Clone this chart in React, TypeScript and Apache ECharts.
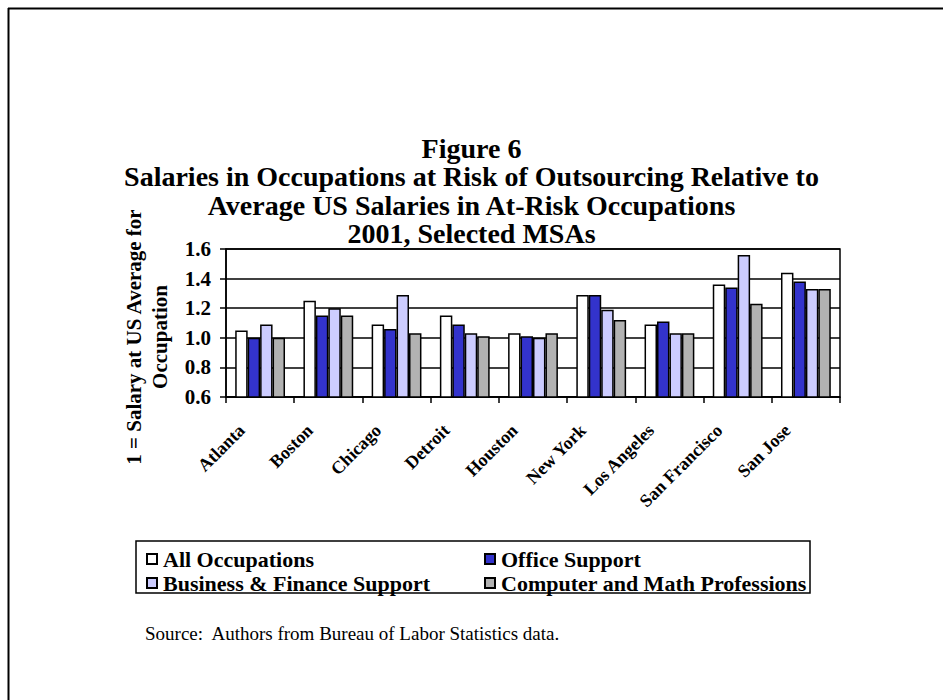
import React, { useEffect, useRef } from "react";
import * as echarts from "echarts";

const categories = ["Atlanta", "Boston", "Chicago", "Detroit", "Houston", "New York", "Los Angeles", "San Francisco", "San Jose"];
const allOccupations = [1.05, 1.25, 1.09, 1.15, 1.03, 1.29, 1.09, 1.36, 1.44];
const officeSupport = [1.0, 1.15, 1.06, 1.09, 1.01, 1.29, 1.11, 1.34, 1.38];
const businessFinance = [1.09, 1.2, 1.29, 1.03, 1.0, 1.19, 1.03, 1.56, 1.33];
const computerMath = [1.0, 1.15, 1.03, 1.01, 1.03, 1.12, 1.03, 1.23, 1.33];
const seriesNames = ["All Occupations", "Office Support", "Business & Finance Support", "Computer and Math Professions"];
const seriesColors = ["#FFFFFF", "#3333CC", "#CCCCFF", "#B2B2B2"];

const FONT = "'Liberation Serif', 'Times New Roman', serif";

export default function App() {
  const ref = useRef<HTMLDivElement>(null);
  useEffect(() => {
    if (!ref.current) return;
    const chart = echarts.init(ref.current, null, { renderer: "svg" });
    const dataSets = [allOccupations, officeSupport, businessFinance, computerMath];
    const legendText = { fontFamily: FONT, fontWeight: "bold", fontSize: 22, color: "#000", padding: [0, 0, 0, 1] };
    chart.setOption({
      animation: false,
      backgroundColor: "#fff",
      textStyle: { fontFamily: FONT },
      title: {
        text: "Figure 6\nSalaries in Occupations at Risk of Outsourcing Relative to\nAverage US Salaries in At-Risk Occupations\n2001, Selected MSAs",
        left: "center",
        top: 129,
        textStyle: { fontFamily: FONT, fontWeight: "bold", fontSize: 28, lineHeight: 28.5, color: "#000" },
      },
      legend: [
        {
          orient: "vertical",
          left: 141,
          top: 543,
          itemWidth: 10,
          itemHeight: 10,
          itemGap: 2,
          icon: "rect",
          data: [seriesNames[0], seriesNames[2]],
          textStyle: legendText,
        },
        {
          orient: "vertical",
          left: 479,
          top: 543,
          itemWidth: 10,
          itemHeight: 10,
          itemGap: 2,
          icon: "rect",
          data: [seriesNames[1], seriesNames[3]],
          textStyle: legendText,
        },
      ],
      grid: {
        left: 226,
        right: 103,
        top: 249,
        bottom: 303,
        show: true,
        borderColor: "#000",
        borderWidth: 1.5,
        containLabel: false,
      },
      xAxis: {
        type: "category",
        data: categories,
        axisLine: { lineStyle: { color: "#000", width: 1.5 } },
        axisTick: { show: true, length: 6, lineStyle: { color: "#000", width: 1.5 } },
        axisLabel: {
          rotate: 45,
          interval: 0,
          margin: 12,
          padding: [0, 26, 0, 0],
          fontFamily: FONT,
          fontWeight: "bold",
          fontSize: 18,
          color: "#000",
        },
      },
      yAxis: {
        type: "value",
        min: 0.6,
        max: 1.6,
        interval: 0.2,
        axisLine: { show: true, lineStyle: { color: "#000", width: 1.5 } },
        axisTick: { show: true, length: 6, lineStyle: { color: "#000", width: 1.5 } },
        axisLabel: {
          margin: 15,
          fontFamily: FONT,
          fontWeight: "bold",
          fontSize: 21,
          color: "#000",
          formatter: (v: number) => v.toFixed(1),
        },
        splitLine: { show: true, lineStyle: { color: "#000", width: 1.5 } },
      },
      series: dataSets.map((d, i) => ({
        name: seriesNames[i],
        type: "bar",
        data: d,
        barGap: "0%",
        barCategoryGap: "27%",
        itemStyle: { color: seriesColors[i], borderColor: "#000", borderWidth: 1.5 },
      })),
      graphic: [
        { type: "line", shape: { x1: 8.5, y1: 8, x2: 8.5, y2: 700 }, style: { stroke: "#000", lineWidth: 2 } },
        { type: "line", shape: { x1: 8, y1: 8.5, x2: 943, y2: 8.5 }, style: { stroke: "#000", lineWidth: 2 } },
        {
          type: "text",
          x: 134,
          y: 337,
          rotation: Math.PI / 2,
          style: { text: "1 = Salary at US Average for", fontFamily: FONT, fontWeight: "bold", fontSize: 21, fill: "#000", textAlign: "center", textVerticalAlign: "middle" },
        },
        {
          type: "text",
          x: 160,
          y: 337,
          rotation: Math.PI / 2,
          style: { text: "Occupation", fontFamily: FONT, fontWeight: "bold", fontSize: 21, fill: "#000", textAlign: "center", textVerticalAlign: "middle" },
        },
        {
          type: "rect",
          shape: { x: 136, y: 541, width: 674, height: 52 },
          style: { fill: "none", stroke: "#000", lineWidth: 1.5 },
          z: 10,
        },
        {
          type: "text",
          x: 145,
          y: 633,
          style: { text: "Source:  Authors from Bureau of Labor Statistics data.", fontFamily: FONT, fontSize: 19, fill: "#000", textVerticalAlign: "middle" },
        },
      ],
    });
    return () => chart.dispose();
  }, []);
  return <div ref={ref} style={{ position: "absolute", left: 0, top: 0, width: 943, height: 700 }} />;
}
